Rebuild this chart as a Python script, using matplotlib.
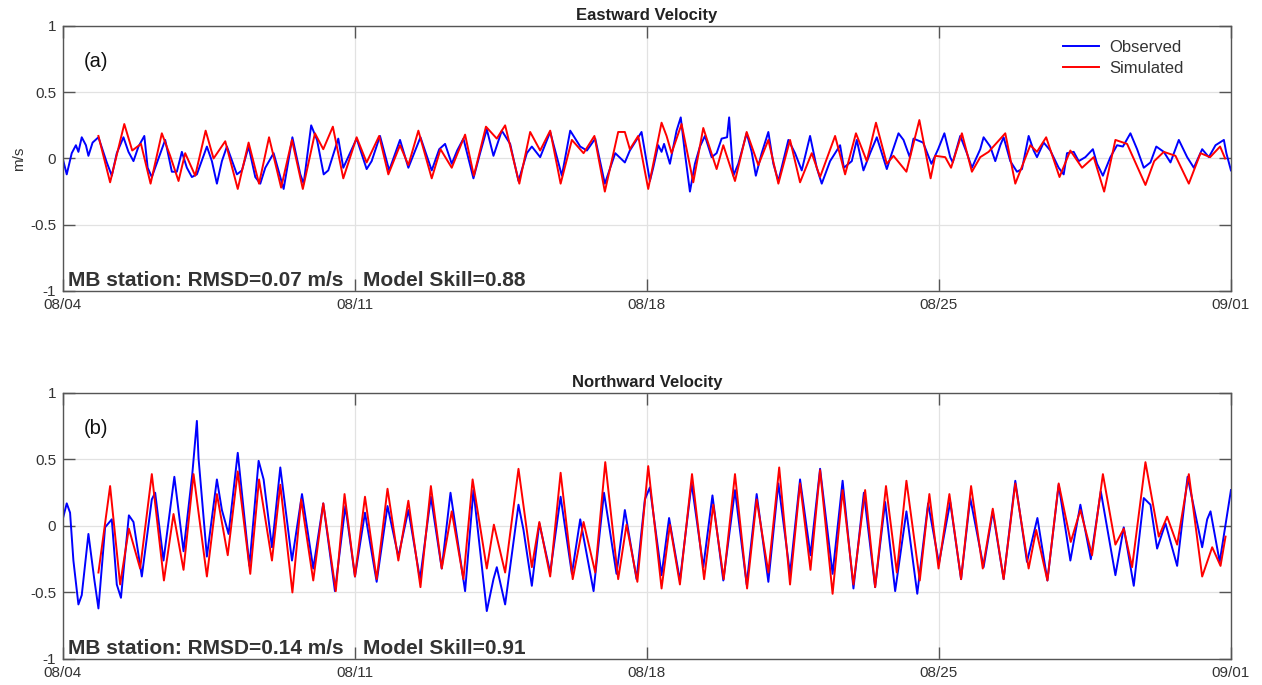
import numpy as np
import pandas as pd
import matplotlib
matplotlib.use('Agg')
import matplotlib.pyplot as plt

plt.rcParams['font.family'] = ['Liberation Sans', 'DejaVu Sans']

# Début de la série et étiquettes de l'axe des temps
start = pd.Timestamp('2018-08-04')
n_days = 28
tick_days = [0, 7, 14, 21, 28]
tick_labels = ['08/04', '08/11', '08/18', '08/25', '09/01']
y_ticks = [-1, -0.5, 0, 0.5, 1]
y_labels = ['-1', '-0.5', '0', '0.5', '1']

# (a) Vitesse Est - observée (jours depuis 08/04, m/s)
east_obs_day = [0.01, 0.09, 0.21, 0.31, 0.37, 0.45, 0.55, 0.61, 0.71, 0.85,
                1.05, 1.17, 1.29, 1.45, 1.57, 1.69, 1.81, 1.95, 2.03, 2.13,
                2.29, 2.45, 2.61, 2.73, 2.85, 2.97, 3.09, 3.21, 3.45, 3.57,
                3.69, 3.81, 3.93, 4.17, 4.29, 4.45, 4.61, 4.73, 4.85, 5.05,
                5.29, 5.50, 5.69, 5.77, 5.95, 6.09, 6.25, 6.36, 6.60, 6.72,
                6.88, 7.04, 7.28, 7.40, 7.60, 7.82, 8.08, 8.28, 8.57, 8.84,
                9.02, 9.16, 9.32, 9.45, 9.60, 9.84, 10.00, 10.16, 10.32, 10.52,
                10.72, 10.92, 11.12, 11.24, 11.44, 11.68, 11.96, 12.16, 12.40, 12.56,
                12.76, 12.99, 13.24, 13.47, 13.59, 13.79, 13.87, 14.07, 14.15, 14.27,
                14.35, 14.41, 14.55, 14.71, 14.81, 14.91, 15.03, 15.15, 15.27, 15.39,
                15.55, 15.67, 15.79, 15.92, 15.97, 16.07, 16.19, 16.39, 16.51, 16.61,
                16.75, 16.91, 17.03, 17.15, 17.39, 17.55, 17.71, 17.91, 18.07, 18.19,
                18.39, 18.63, 18.72, 18.91, 19.03, 19.19, 19.35, 19.51, 19.75, 19.87,
                20.03, 20.15, 20.30, 20.39, 20.62, 20.82, 20.98, 21.13, 21.27, 21.33,
                21.51, 21.67, 21.79, 21.99, 22.07, 22.23, 22.35, 22.47, 22.55, 22.71,
                22.87, 22.99, 23.15, 23.27, 23.35, 23.51, 23.67, 23.87, 23.99, 24.07,
                24.23, 24.35, 24.51, 24.69, 24.79, 24.93, 25.11, 25.27, 25.41, 25.59,
                25.75, 25.91, 26.07, 26.21, 26.39, 26.55, 26.75, 26.95, 27.11, 27.31,
                27.47, 27.63, 27.83, 27.89, 28.00]
east_obs = [-0.02, -0.12, 0.04, 0.10, 0.05, 0.16, 0.10, 0.02, 0.12, 0.16,
            -0.03, -0.13, 0.04, 0.16, 0.05, -0.02, 0.09, 0.17, -0.07, -0.14,
            0.00, 0.14, -0.10, -0.10, 0.05, -0.07, -0.14, -0.12, 0.09, -0.02,
            -0.19, -0.02, 0.09, -0.12, -0.09, 0.09, -0.14, -0.19, -0.07, 0.04,
            -0.23, 0.16, -0.12, -0.19, 0.25, 0.14, -0.12, -0.09, 0.15, -0.07,
            0.04, 0.15, -0.08, -0.02, 0.17, -0.09, 0.14, -0.07, 0.16, -0.09,
            0.07, 0.11, -0.04, 0.06, 0.15, -0.15, 0.04, 0.22, 0.02, 0.21,
            0.11, -0.17, 0.04, 0.09, 0.01, 0.20, -0.13, 0.21, 0.09, 0.06,
            0.15, -0.19, 0.04, -0.03, 0.06, 0.16, 0.20, -0.17, -0.07, 0.10,
            0.05, 0.11, -0.04, 0.21, 0.31, 0.04, -0.25, -0.04, 0.09, 0.17,
            0.01, 0.04, 0.15, 0.16, 0.31, -0.13, -0.04, 0.19, 0.05, -0.13,
            0.04, 0.20, -0.04, -0.17, 0.14, 0.04, -0.09, 0.17, -0.07, -0.19,
            -0.02, 0.10, -0.07, -0.02, 0.14, -0.09, 0.04, 0.16, -0.08, 0.04,
            0.19, 0.14, 0.01, 0.15, 0.12, -0.04, 0.07, 0.19, 0.01, -0.03,
            0.17, 0.04, -0.07, 0.07, 0.16, 0.09, -0.02, 0.10, 0.16, -0.02,
            -0.10, -0.08, 0.17, 0.06, 0.01, 0.12, 0.06, -0.07, -0.12, 0.04,
            0.05, -0.02, 0.01, 0.07, -0.04, -0.13, 0.01, 0.10, 0.09, 0.19,
            0.07, -0.07, -0.03, 0.09, 0.05, -0.03, 0.14, 0.01, -0.07, 0.07,
            0.01, 0.10, 0.14, 0.04, -0.09]

# (a) Vitesse Est - simulée
east_sim_day = [0.85, 1.13, 1.47, 1.66, 1.87, 2.10, 2.37, 2.57, 2.77, 2.93,
                3.17, 3.42, 3.61, 3.89, 4.19, 4.45, 4.70, 4.94, 5.23, 5.49,
                5.75, 6.04, 6.24, 6.47, 6.72, 7.04, 7.28, 7.58, 7.80, 8.08,
                8.28, 8.52, 8.84, 9.05, 9.32, 9.64, 9.85, 10.14, 10.40, 10.60,
                10.94, 11.20, 11.44, 11.68, 11.93, 12.20, 12.48, 12.74, 12.99, 13.31,
                13.47, 13.59, 13.79, 14.03, 14.35, 14.47, 14.59, 14.83, 15.11, 15.35,
                15.67, 15.83, 16.11, 16.39, 16.67, 16.91, 17.15, 17.43, 17.67, 17.95,
                18.15, 18.51, 18.75, 19.01, 19.27, 19.49, 19.75, 19.91, 20.22, 20.53,
                20.80, 20.91, 21.15, 21.29, 21.55, 21.79, 21.99, 22.19, 22.59, 22.83,
                23.19, 23.35, 23.57, 23.89, 24.15, 24.43, 24.71, 24.96, 25.23, 25.51,
                25.95, 26.16, 26.39, 26.67, 26.99, 27.27, 27.50, 27.74, 27.86]
east_sim = [0.17, -0.18, 0.26, 0.06, 0.11, -0.19, 0.19, 0.02, -0.17, 0.04,
            -0.13, 0.21, 0.00, 0.13, -0.23, 0.12, -0.19, 0.16, -0.22, 0.14,
            -0.23, 0.19, 0.07, 0.24, -0.15, 0.16, -0.03, 0.17, -0.12, 0.10,
            -0.05, 0.21, -0.15, 0.07, -0.07, 0.18, -0.13, 0.24, 0.15, 0.25,
            -0.19, 0.20, 0.06, 0.21, -0.19, 0.14, 0.04, 0.17, -0.25, 0.20,
            0.20, 0.07, 0.17, -0.23, 0.27, 0.17, 0.04, 0.26, -0.18, 0.23,
            -0.08, 0.10, -0.17, 0.20, -0.05, 0.14, -0.19, 0.14, -0.18, 0.04,
            -0.14, 0.17, -0.12, 0.19, -0.02, 0.27, -0.04, 0.02, -0.10, 0.29,
            -0.15, 0.02, 0.01, -0.07, 0.19, -0.10, 0.01, 0.05, 0.19, -0.19,
            0.10, 0.05, 0.16, -0.14, 0.06, -0.07, 0.01, -0.25, 0.14, 0.11,
            -0.20, -0.02, 0.05, 0.02, -0.19, 0.04, 0.01, 0.09, 0.00]

# (b) Vitesse Nord - observée
north_obs_day = [0.01, 0.09, 0.17, 0.25, 0.37, 0.45, 0.61, 0.75, 0.85, 1.01,
                 1.17, 1.29, 1.39, 1.58, 1.69, 1.89, 2.13, 2.21, 2.41, 2.67,
                 2.89, 3.10, 3.21, 3.25, 3.45, 3.69, 3.81, 3.97, 4.19, 4.47,
                 4.69, 4.81, 5.01, 5.21, 5.49, 5.73, 6.00, 6.24, 6.52, 6.77,
                 7.00, 7.24, 7.52, 7.78, 8.04, 8.28, 8.56, 8.82, 9.08, 9.29,
                 9.64, 9.84, 10.16, 10.32, 10.40, 10.60, 10.92, 11.04, 11.24, 11.42,
                 11.68, 11.93, 12.20, 12.40, 12.72, 12.97, 13.27, 13.47, 13.75, 13.95,
                 14.07, 14.35, 14.53, 14.79, 15.07, 15.35, 15.57, 15.83, 16.11, 16.39,
                 16.63, 16.91, 17.15, 17.43, 17.67, 17.92, 18.15, 18.45, 18.69, 18.95,
                 19.20, 19.47, 19.71, 19.95, 20.22, 20.48, 20.74, 21.00, 21.27, 21.53,
                 21.75, 22.07, 22.29, 22.55, 22.83, 23.11, 23.36, 23.60, 23.87, 24.15,
                 24.39, 24.64, 24.88, 25.23, 25.43, 25.67, 25.91, 26.07, 26.23, 26.43,
                 26.71, 26.96, 27.31, 27.43, 27.51, 27.73, 27.86, 28.00]
north_obs = [0.07, 0.17, 0.10, -0.26, -0.59, -0.52, -0.06, -0.40, -0.62, -0.01,
             0.05, -0.44, -0.54, 0.08, 0.03, -0.38, 0.20, 0.25, -0.26, 0.37,
             -0.19, 0.39, 0.79, 0.51, -0.23, 0.35, 0.12, -0.06, 0.55, -0.30,
             0.49, 0.35, -0.16, 0.44, -0.26, 0.24, -0.32, 0.17, -0.49, 0.15,
             -0.38, 0.10, -0.42, 0.15, -0.23, 0.12, -0.40, 0.22, -0.32, 0.25,
             -0.49, 0.27, -0.64, -0.40, -0.31, -0.59, 0.16, -0.03, -0.45, 0.02,
             -0.35, 0.22, -0.36, 0.05, -0.49, 0.25, -0.36, 0.12, -0.40, 0.20,
             0.29, -0.37, 0.06, -0.41, 0.32, -0.31, 0.23, -0.41, 0.27, -0.44,
             0.24, -0.42, 0.32, -0.36, 0.35, -0.22, 0.43, -0.36, 0.34, -0.47,
             0.25, -0.46, 0.18, -0.49, 0.11, -0.51, 0.17, -0.28, 0.18, -0.40,
             0.21, -0.31, 0.11, -0.40, 0.34, -0.27, 0.06, -0.41, 0.31, -0.26,
             0.16, -0.25, 0.26, -0.37, -0.01, -0.45, 0.21, 0.16, -0.17, 0.02,
             -0.30, 0.37, -0.16, 0.05, 0.11, -0.27, -0.01, 0.27]

# (b) Vitesse Nord - simulée
north_sim_day = [0.85, 1.13, 1.37, 1.58, 1.85, 2.13, 2.42, 2.65, 2.89, 3.13,
                 3.45, 3.69, 3.95, 4.19, 4.49, 4.70, 5.01, 5.21, 5.50, 5.71,
                 6.00, 6.24, 6.54, 6.75, 7.00, 7.24, 7.52, 7.78, 8.04, 8.28,
                 8.57, 8.82, 9.08, 9.32, 9.60, 9.82, 10.16, 10.33, 10.60, 10.92,
                 11.24, 11.42, 11.68, 11.93, 12.22, 12.48, 12.76, 13.00, 13.31, 13.51,
                 13.77, 14.03, 14.35, 14.55, 14.79, 15.08, 15.37, 15.59, 15.84, 16.11,
                 16.40, 16.63, 16.91, 17.17, 17.43, 17.67, 17.92, 18.15, 18.45, 18.69,
                 18.95, 19.23, 19.47, 19.73, 19.99, 20.22, 20.54, 20.77, 20.99, 21.25,
                 21.53, 21.77, 22.05, 22.29, 22.55, 22.83, 23.15, 23.33, 23.60, 23.87,
                 24.16, 24.39, 24.67, 24.93, 25.23, 25.43, 25.63, 25.95, 26.27, 26.47,
                 26.71, 26.99, 27.31, 27.55, 27.75, 27.87]
north_sim = [-0.35, 0.30, -0.44, -0.02, -0.32, 0.39, -0.41, 0.09, -0.33, 0.39,
             -0.38, 0.24, -0.22, 0.41, -0.36, 0.35, -0.26, 0.31, -0.50, 0.20,
             -0.41, 0.17, -0.49, 0.24, -0.38, 0.22, -0.40, 0.28, -0.26, 0.19,
             -0.46, 0.30, -0.32, 0.11, -0.40, 0.35, -0.32, 0.01, -0.35, 0.43,
             -0.31, 0.03, -0.38, 0.40, -0.40, 0.03, -0.35, 0.48, -0.40, 0.01,
             -0.42, 0.45, -0.47, 0.01, -0.44, 0.39, -0.40, 0.16, -0.40, 0.39,
             -0.47, 0.20, -0.35, 0.44, -0.44, 0.32, -0.33, 0.42, -0.51, 0.27,
             -0.44, 0.27, -0.46, 0.30, -0.35, 0.34, -0.41, 0.24, -0.32, 0.24,
             -0.40, 0.30, -0.32, 0.13, -0.40, 0.32, -0.32, -0.03, -0.41, 0.32,
             -0.12, 0.12, -0.22, 0.39, -0.14, -0.02, -0.31, 0.48, -0.08, 0.07,
             -0.14, 0.39, -0.38, -0.16, -0.30, -0.08]


def to_time(days):
    return start + pd.to_timedelta(np.array(days), unit='D')


fig = plt.figure(figsize=(12.62, 6.85), dpi=100)
ax_a = fig.add_axes([0.0499, 0.5752, 0.9255, 0.3869])
ax_b = fig.add_axes([0.0499, 0.0380, 0.9255, 0.3883])


def style(ax, title, tag, rmsd_txt, skill_txt):
    ax.set_xlim(to_time([0])[0], to_time([n_days])[0])
    ax.set_ylim(-1, 1)
    ax.set_yticks(y_ticks)
    ax.set_yticklabels(y_labels)
    ax.set_xticks(to_time(tick_days))
    ax.set_xticklabels(tick_labels)
    ax.grid(True, color='#e2e2e2', lw=0.9)
    ax.set_axisbelow(True)
    ax.tick_params(direction='in', length=8.5, width=1.0, top=True, right=True,
                   color='#555555', labelcolor='#333333', labelsize=11, pad=5)
    for s in ax.spines.values():
        s.set_color('#555555'); s.set_linewidth(1.0)
    ax.set_title(title, fontsize=12, fontweight='bold', color='#222222', pad=4)
    ax.text(0.018, 0.865, tag, transform=ax.transAxes, fontsize=14.5, va='center', color='#111111')
    ax.text(0.004, 0.018, rmsd_txt, transform=ax.transAxes, fontsize=15,
            fontweight='bold', color='#333333')
    ax.text(0.257, 0.018, skill_txt, transform=ax.transAxes, fontsize=15,
            fontweight='bold', color='#333333')


# Panneau (a)
ax_a.plot(to_time(east_obs_day), east_obs, color='blue', lw=1.4, label='Observed')
ax_a.plot(to_time(east_sim_day), east_sim, color='red', lw=1.4, label='Simulated')
style(ax_a, 'Eastward Velocity', '(a)', 'MB station: RMSD=0.07 m/s', 'Model Skill=0.88')
ax_a.set_ylabel('m/s', fontsize=11, color='#333333', labelpad=3)
leg = ax_a.legend(loc='upper left', bbox_to_anchor=(0.856, 0.948), frameon=False,
                  fontsize=12, handlelength=2.2, handletextpad=0.6,
                  labelspacing=0.35, borderpad=0, borderaxespad=0)
for t in leg.get_texts():
    t.set_color('#333333')

# Panneau (b)
ax_b.plot(to_time(north_obs_day), north_obs, color='blue', lw=1.4)
ax_b.plot(to_time(north_sim_day), north_sim, color='red', lw=1.4)
style(ax_b, 'Northward Velocity', '(b)', 'MB station: RMSD=0.14 m/s', 'Model Skill=0.91')

fig.savefig('out.png', dpi=100)
